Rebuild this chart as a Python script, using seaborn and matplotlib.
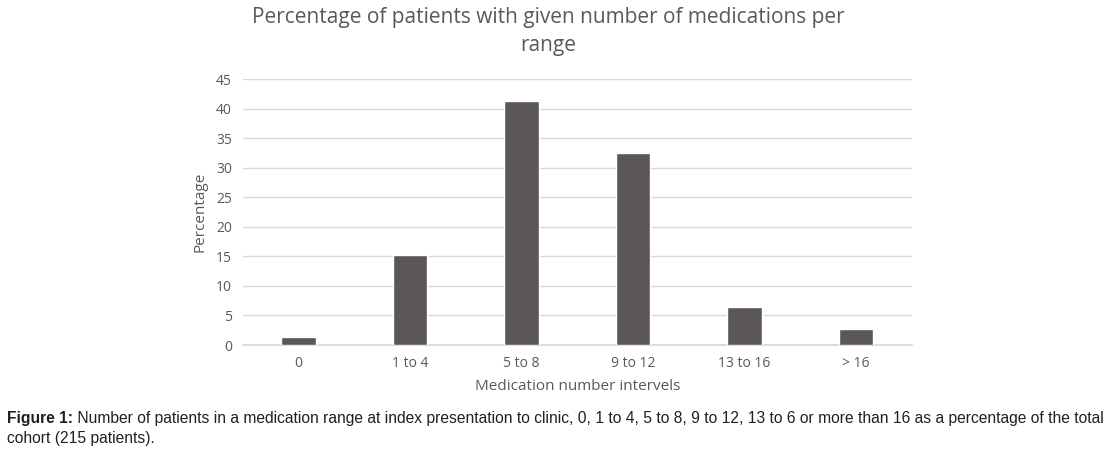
import matplotlib
matplotlib.use("Agg")
import matplotlib.pyplot as plt
import seaborn as sns
import pandas as pd

categories = ["0", "1 to 4", "5 to 8", "9 to 12", "13 to 16", "> 16"]
percentages = [1.3, 15.3, 41.4, 32.5, 6.4, 2.7]
y_ticks = [0, 5, 10, 15, 20, 25, 30, 35, 40, 45]

sns.set_theme(style="white")
plt.rcParams['font.family'] = ['Open Sans', 'DejaVu Sans']

df = pd.DataFrame({"cat": categories, "pct": percentages})

fig = plt.figure(figsize=(11.05, 4.53), dpi=100)
ax = fig.add_axes([0.2199, 0.2384, 0.6051, 0.5865])
text_color = "#595959"
sns.barplot(data=df, x="cat", y="pct", color="#5b5757", width=0.31,
            saturation=1, ax=ax, zorder=3)
ax.set_ylim(0, 45)
ax.set_xlim(-0.5, len(categories) - 0.5)
ax.set_yticks(y_ticks)
ax.yaxis.grid(True, color="#d9d9d9", linewidth=1, zorder=0)
ax.xaxis.grid(False)
for s in ["top", "right", "left"]:
    ax.spines[s].set_visible(False)
ax.spines["bottom"].set_color("#d9d9d9")
ax.tick_params(axis="both", length=0, labelsize=10, colors=text_color, pad=8)
ax.set_xlabel("Medication number intervels", fontsize=11, color=text_color, labelpad=6)
ax.set_ylabel("Percentage", fontsize=11, color=text_color, labelpad=6)

fig.text(0.496, 0.985, "Percentage of patients with given number of medications per\nrange",
         ha="center", va="top", fontsize=15, color=text_color, linespacing=1.45)

# caption
cap_font = ['Liberation Sans', 'DejaVu Sans']
cap_color = "#231f20"
renderer = fig.canvas.get_renderer()
x0_px, x1_px = 7, 1100
fs = 9.5
rest = " Number of patients in a medication range at index presentation to clinic, 0, 1 to 4, 5 to 8, 9 to 12, 13 to 6 or more than 16 as a percentage of the total"
y1 = 1 - 419 / 453
y2 = 1 - 438 / 453
t_bold = fig.text(x0_px / 1105, y1, "Figure 1:", fontsize=fs, fontweight="bold",
                  family=cap_font, color=cap_color, va="center")
t_rest = fig.text(0, y1, rest, fontsize=fs, family=cap_font, color=cap_color, va="center")
for _ in range(5):
    wb = t_bold.get_window_extent(renderer).width
    wr = t_rest.get_window_extent(renderer).width
    total = wb + wr
    fs = fs * (x1_px - x0_px) / total
    t_bold.set_fontsize(fs)
    t_rest.set_fontsize(fs)
wb = t_bold.get_window_extent(renderer).width
t_rest.set_x((x0_px + wb) / 1105)
fig.text(x0_px / 1105, y2, "cohort (215 patients).", fontsize=fs, family=cap_font,
         color=cap_color, va="center")

fig.savefig("out.png", dpi=100)
